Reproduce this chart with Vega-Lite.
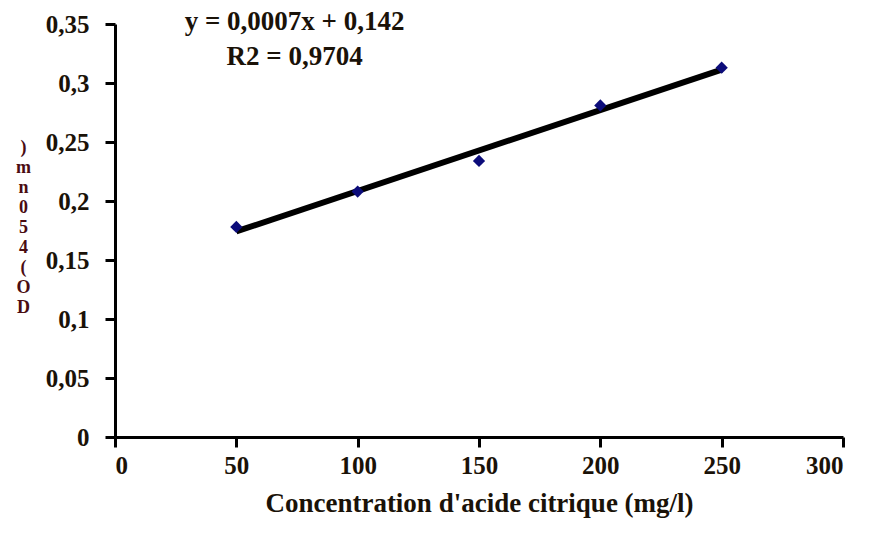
{
  "$schema": "https://vega.github.io/schema/vega-lite/v6.json",
  "width": 728,
  "height": 413,
  "autosize": {"type": "none"},
  "padding": {"left": 115, "top": 24, "right": 26, "bottom": 110},
  "background": "white",
  "config": {"view": {"stroke": null}, "font": "Liberation Serif"},
  "data": {"values": [
    {"conc": 50, "od": 0.178},
    {"conc": 100, "od": 0.208},
    {"conc": 150, "od": 0.234},
    {"conc": 200, "od": 0.281},
    {"conc": 250, "od": 0.313}
  ]},
  "encoding": {
    "x": {
      "field": "conc", "type": "quantitative",
      "scale": {"domain": [0, 300], "nice": false},
      "axis": {
        "values": [0, 50, 100, 150, 200, 250, 300],
        "grid": false,
        "domainColor": "black", "domainWidth": 3,
        "tickColor": "black", "tickWidth": 3, "tickSize": 10,
        "labelFont": "Liberation Serif", "labelFontWeight": "bold", "labelFontSize": 25,
        "labelColor": "#1a1208", "labelPadding": 6,
        "title": "Concentration d'acide citrique (mg/l)",
        "titleFont": "Liberation Serif", "titleFontWeight": "bold", "titleFontSize": 27,
        "titleColor": "#1a1208", "titlePadding": 12
      }
    },
    "y": {
      "field": "od", "type": "quantitative",
      "scale": {"domain": [0, 0.35], "nice": false},
      "axis": {
        "values": [0, 0.05, 0.1, 0.15, 0.2, 0.25, 0.3, 0.35],
        "format": ".2~f",
        "labelExpr": "replace(datum.label, '.', ',')",
        "grid": false,
        "domainColor": "black", "domainWidth": 3,
        "tickColor": "black", "tickWidth": 3, "tickSize": 10,
        "labelFont": "Liberation Serif", "labelFontWeight": "bold", "labelFontSize": 25,
        "labelColor": "#1a1208", "labelPadding": 16,
        "title": [")", "m", "n", "0", "5", "4", "(", "O", "D"],
        "titleAngle": 0,
        "titleAlign": "center",
        "titleBaseline": "top",
        "titleX": -92,
        "titleY": 114,
        "titleLineHeight": 20,
        "titleFont": "Liberation Serif", "titleFontWeight": "bold", "titleFontSize": 18,
        "titleColor": "#4a0c12"
      }
    }
  },
  "layer": [
    {
      "transform": [{"regression": "od", "on": "conc"}],
      "mark": {"type": "line", "color": "black", "strokeWidth": 6}
    },
    {
      "mark": {"type": "point", "shape": "diamond", "filled": true, "color": "#0c0c7a", "size": 150, "opacity": 1}
    },
    {
      "data": {"values": [
        {"conc": 74, "od": 0.3517, "t": "y = 0,0007x + 0,142"},
        {"conc": 74, "od": 0.322, "t": "R2 = 0,9704"}
      ]},
      "mark": {"type": "text", "font": "Liberation Serif", "fontWeight": "bold", "fontSize": 27, "color": "#1a1208", "clip": false},
      "encoding": {"text": {"field": "t"}}
    }
  ]
}
